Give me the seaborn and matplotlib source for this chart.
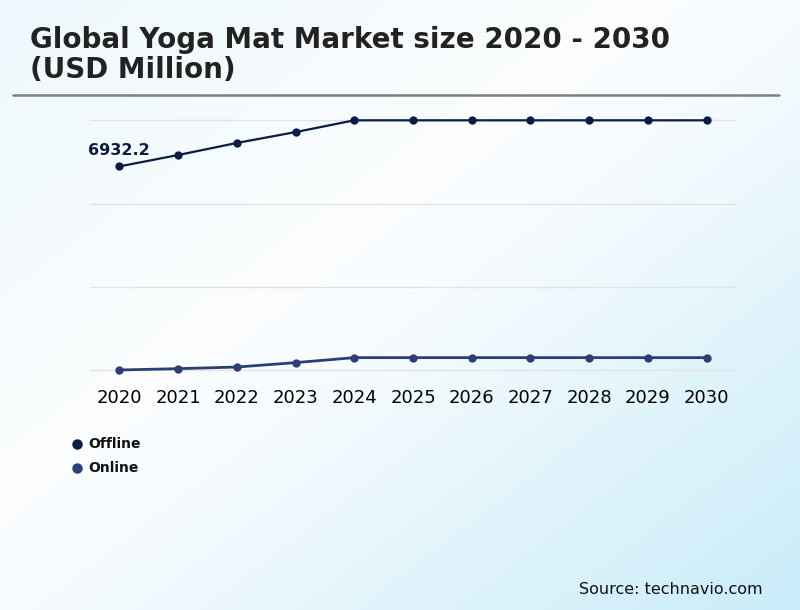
import numpy as np
import pandas as pd
import seaborn as sns
import matplotlib.pyplot as plt
from matplotlib.colors import LinearSegmentedColormap

# values (USD Million)
years = [2020, 2021, 2022, 2023, 2024, 2025, 2026, 2027, 2028, 2029, 2030]
offline = [6932.2, 7320, 7730, 8100, 8500, 8500, 8500, 8500, 8500, 8500, 8500]
online = [10, 55, 110, 260, 430, 430, 430, 430, 430, 430, 430]
series_names = ["Offline", "Online"]
series_colors = ["#0b1d45", "#2b3f75"]
grid_ticks = [0, 8500 / 3, 2 * 8500 / 3, 8500]

df = pd.DataFrame({"Year": years, "Offline": offline, "Online": online})
df = df.melt(id_vars="Year", var_name="Channel", value_name="Value")
df["pos"] = df["Year"] - years[0]

sns.set_style("white")
plt.rcParams['font.family'] = ['DejaVu Sans']

fig = plt.figure(figsize=(8, 6.1), dpi=100)

# diagonal background: faint blue top-left, pale band, light blue bottom-right
bg = fig.add_axes([0, 0, 1, 1], zorder=-10)
gx, gy = np.meshgrid(np.linspace(0, 1, 200), np.linspace(0, 1, 200))
grad = (gx + gy) / 2
cmap = LinearSegmentedColormap.from_list(
    "bg", [(0, "#eef8fc"), (0.4, "#fbfdfe"), (0.5, "#f8fcfe"), (1, "#c9ecf9")])
bg.imshow(grad, cmap=cmap, aspect="auto", origin="upper", extent=[0, 1, 0, 1])
bg.axis("off")

ax = fig.add_axes([90 / 800, 1 - 379.1 / 610, (736 - 90) / 800, (379.1 - 111.5) / 610])
ax.patch.set_alpha(0)

for name, col, lw in zip(series_names, series_colors, [1.6, 2.0]):
    sub = df[df["Channel"] == name]
    sns.lineplot(data=sub, x="pos", y="Value", ax=ax, color=col, linewidth=lw,
                 marker="o", markersize=6, markeredgewidth=0, clip_on=False,
                 legend=False)

ax.set_xlim(-0.5, len(years) - 0.5)
ax.set_ylim(-300, 8800)
ax.set_xticks(range(len(years)))
ax.set_xticklabels([str(y) for y in years], fontsize=13, color="#000000")
ax.set_yticks(grid_ticks)
ax.set_yticklabels([])
ax.tick_params(axis="both", length=0)
ax.tick_params(axis="x", pad=7)
ax.grid(axis="y", color="#e3e3e3", linewidth=1)
ax.grid(axis="x", visible=False)
ax.set_xlabel("")
ax.set_ylabel("")
for s in ax.spines.values():
    s.set_visible(False)

ax.annotate(f"{offline[0]}", xy=(0, offline[0]), xytext=(0, 6),
            textcoords="offset points", ha="center", va="bottom",
            fontsize=11.5, fontweight="bold", color=series_colors[0])

# title and rule
fig.text(30 / 800, 1 - 26 / 610, "Global Yoga Mat Market size 2020 - 2030\n(USD Million)",
         ha="left", va="top", fontsize=20, fontweight="bold", color="#222222",
         linespacing=1.08)
fig.add_artist(plt.Line2D([13 / 800, 779 / 800], [1 - 95 / 610, 1 - 95 / 610],
                          color="#7f7f7f", linewidth=1.8))

# legend
for i, (name, col) in enumerate(zip(series_names, series_colors)):
    yy = 1 - (444 + 24 * i) / 610
    fig.add_artist(plt.Line2D([77 / 800], [yy], marker="o", markersize=7.5,
                              color=col, markeredgewidth=0, linestyle=""))
    fig.text(88 / 800, yy, name, ha="left", va="center", fontsize=10,
             fontweight="bold", color="#111111")

fig.text(763 / 800, 1 - 589 / 610, "Source: technavio.com", ha="right", va="center",
         fontsize=11.5, color="#111111")

fig.savefig("out.png", dpi=100)
